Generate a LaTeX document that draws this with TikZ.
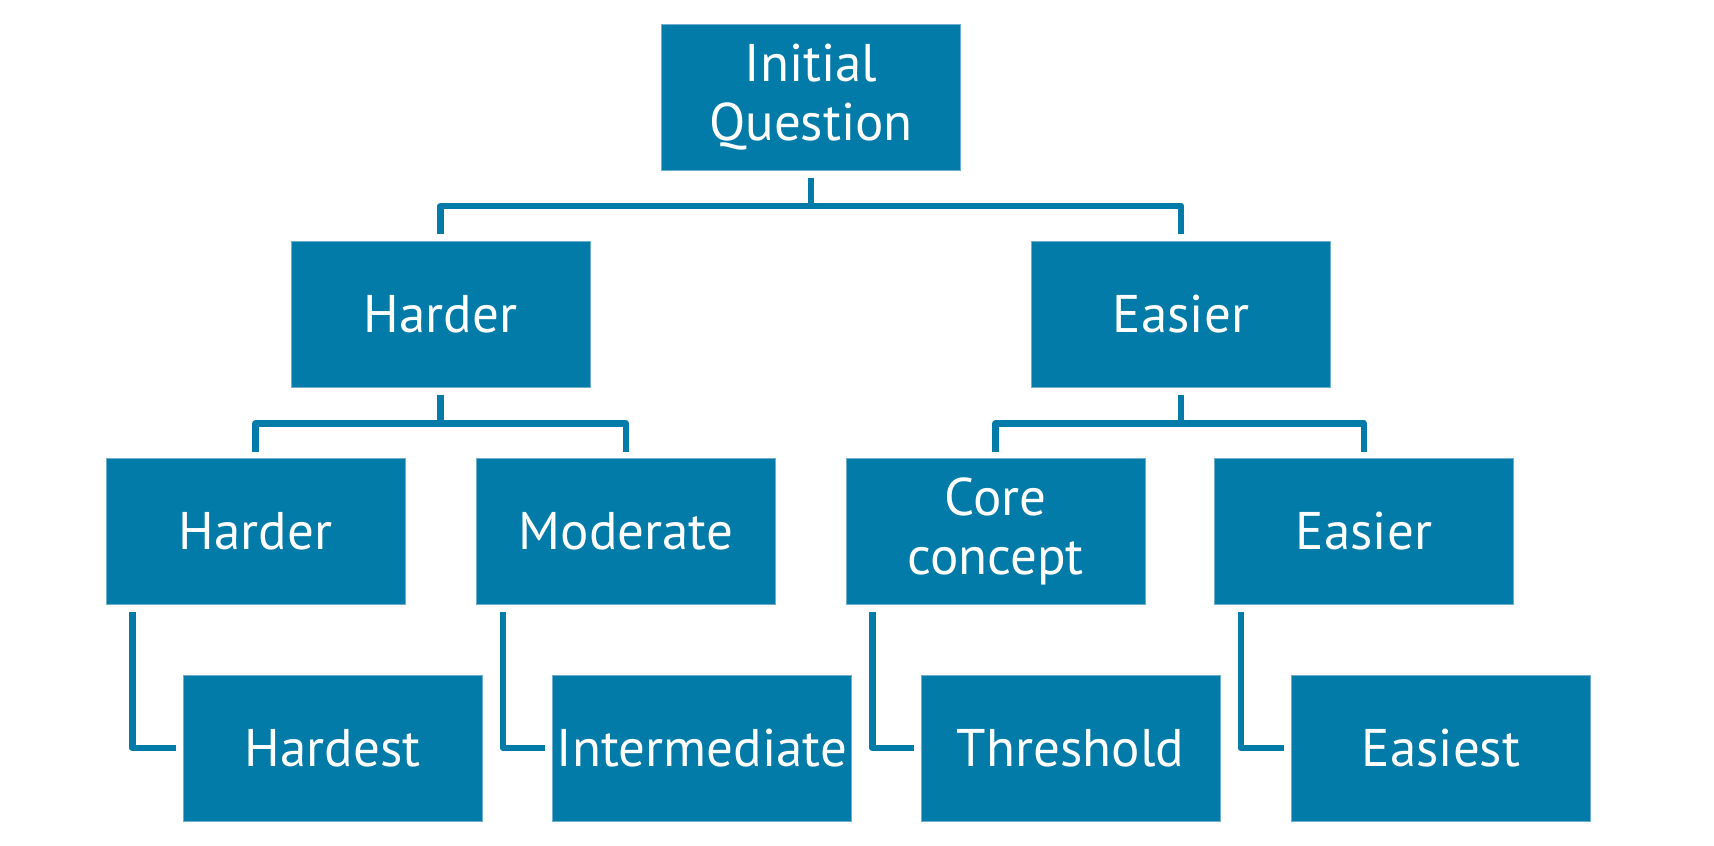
\documentclass[tikz,border=0pt]{standalone}
\usepackage{fontspec}
\setmainfont{PT Sans}
\usetikzlibrary{calc}
\definecolor{boxblue}{RGB}{2,123,168}
\definecolor{boxedge}{RGB}{110,175,205}
\tikzset{
  box/.style={rectangle, fill=boxblue, draw=boxedge, line width=0.5pt,
    minimum width=149.5pt, minimum height=73pt, inner sep=0pt,
    text=white, align=center, font=\fontsize{26.5}{29.5}\selectfont},
  link/.style={draw=boxblue, line width=3.25pt, line join=round}
}
\begin{document}
\begin{tikzpicture}[x=0.5pt,y=-0.5pt]
\useasboundingbox[fill=white] (0,0) rectangle (1714,846);
\node[box] (iq) at (811,97) {Initial\\Question};
\node[box] (h1) at (440.5,314) {Harder};
\node[box] (e1) at (1181,314) {Easier};
\node[box] (h2) at (255.5,531) {Harder};
\node[box] (m2) at (626,531) {Moderate};
\node[box] (c2) at (995.5,531) {Core\\concept};
\node[box] (e2) at (1364,531) {Easier};
\node[box] (h3) at (332.5,748) {Hardest};
\node[box] (i3) at (702,748) {Intermediate};
\node[box] (t3) at (1070.5,748) {Threshold};
\node[box] (s3) at (1441,748) {Easiest};
% level 0 -> 1
\draw[link] ($(iq.south)+(0,7)$) -- ($(iq.south)+(0,35.5)$);
\draw[link] ($(h1.north)+(0,-7)$) |- ($(iq.south)+(0,35.5)$) -| ($(e1.north)+(0,-7)$);
% level 1 -> 2
\draw[link] ($(h1.south)+(0,7)$) -- ($(h1.south)+(0,36)$);
\draw[link] ($(h2.north)+(0,-6)$) |- ($(h1.south)+(0,36)$) -| ($(m2.north)+(0,-6)$);
\draw[link] ($(e1.south)+(0,7)$) -- ($(e1.south)+(0,36)$);
\draw[link] ($(c2.north)+(0,-6)$) |- ($(e1.south)+(0,36)$) -| ($(e2.north)+(0,-6)$);
% level 2 -> 3
\draw[link] ($(h2.south west)+(27,7)$) |- ($(h3.west)+(-7,0)$);
\draw[link] ($(m2.south west)+(27,7)$) |- ($(i3.west)+(-7,0)$);
\draw[link] ($(c2.south west)+(27,7)$) |- ($(t3.west)+(-7,0)$);
\draw[link] ($(e2.south west)+(27,7)$) |- ($(s3.west)+(-7,0)$);
\end{tikzpicture}
\end{document}
